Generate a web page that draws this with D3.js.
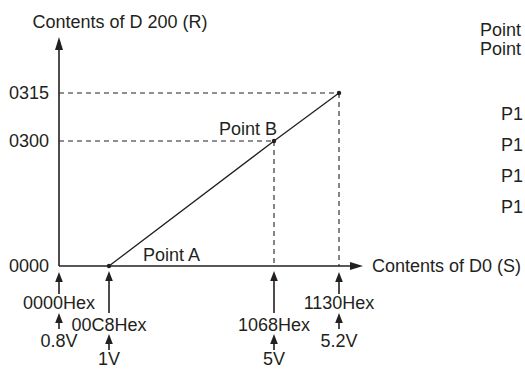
<!DOCTYPE html>
<html>
<head>
<meta charset="utf-8">
<script src="https://cdn.jsdelivr.net/npm/d3@7"></script>
<style>
  html, body { margin: 0; padding: 0; background: #fff; overflow: hidden; }
  svg { display: block; }
  text { font-family: "Liberation Sans", Arial, Helvetica, sans-serif; font-size: 18px; fill: #231f20; }
</style>
</head>
<body>
<svg id="chart" width="525" height="369"></svg>
<script>
// Input side: contents of D0 (S), hex words and the matching input voltages
const sTicks = ["0000", "00C8", "1068", "1130"];
const voltages = ["0.8V", "1V", "5V", "5.2V"];

// Output side: contents of D 200 (R)
const rTicks = ["0000", "0300", "0315"];

// Scaling line: S → R
const lineS = ["00C8", "1068", "1130"];
const lineR = ["0000", "0300", "0315"];
const pointNames = ["Point A", "Point B"];

// Side notes
const notesTop = ["Point", "Point"];
const notesList = ["P1", "P1", "P1", "P1"];

const yTitle = "Contents of D 200 (R)";
const xTitle = "Contents of D0 (S)";

const hex = h => parseInt(h, 16);
const ink = "#231f20";

const svg = d3.select("#chart");

// Schematic (not to scale) axes: piecewise-linear scales through the marked values
const x = d3.scaleLinear()
  .domain(sTicks.map(hex))
  .range([59, 109, 274, 339]);
const y = d3.scaleLinear()
  .domain(rTicks.map(hex))
  .range([266, 141, 93]);

const x0 = x(0), y0 = y(0);

function arrowHead(g, tipX, tipY, dir, len, half) {
  // dir: "up" or "right"
  let pts;
  if (dir === "up") pts = [[tipX, tipY], [tipX - half, tipY + len], [tipX + half, tipY + len]];
  else pts = [[tipX, tipY], [tipX - len, tipY - half], [tipX - len, tipY + half]];
  g.append("path").attr("d", d3.line()(pts) + "Z").attr("fill", ink).attr("stroke", "none");
}

const g = svg.append("g");

// Dashed guides from each marked point to both axes
const pts = lineS.map((s, i) => ({ s: hex(s), r: hex(lineR[i]) }));
pts.filter(p => p.r > 0).forEach(p => {
  g.append("line")
    .attr("x1", x0).attr("x2", x(p.s))
    .attr("y1", y(p.r)).attr("y2", y(p.r))
    .attr("stroke", ink).attr("stroke-width", 1.1).attr("stroke-dasharray", "5,4");
  g.append("line")
    .attr("x1", x(p.s)).attr("x2", x(p.s))
    .attr("y1", y(p.r)).attr("y2", y0)
    .attr("stroke", ink).attr("stroke-width", 1.1).attr("stroke-dasharray", "5,4");
});

// Axes with arrowheads
g.append("line").attr("x1", x0).attr("x2", x0).attr("y1", y0).attr("y2", 48)
  .attr("stroke", ink).attr("stroke-width", 1.6);
arrowHead(g, x0, 37, "up", 13, 4);
g.append("line").attr("x1", x0).attr("x2", 352).attr("y1", y0).attr("y2", y0)
  .attr("stroke", ink).attr("stroke-width", 1.6);
arrowHead(g, 363, y0, "right", 13, 4);

// Conversion line
g.append("path")
  .attr("d", d3.line().x(p => x(p.s)).y(p => y(p.r))(pts))
  .attr("fill", "none").attr("stroke", ink).attr("stroke-width", 1.3);
g.selectAll("circle.pt").data(pts).join("circle")
  .attr("class", "pt")
  .attr("cx", p => x(p.s)).attr("cy", p => y(p.r)).attr("r", 2.2).attr("fill", ink);

// Y tick labels
g.selectAll("text.rt").data(rTicks).join("text")
  .attr("class", "rt")
  .attr("x", 49).attr("y", d => y(hex(d)))
  .attr("dy", "0.36em").attr("text-anchor", "end")
  .text(d => d);

// Axis titles
g.append("text").attr("x", 120).attr("y", 28).attr("text-anchor", "middle").text(yTitle);
g.append("text").attr("x", 372).attr("y", y0).attr("dy", "0.36em").text(xTitle);

// Point labels
g.append("text").attr("x", x(pts[0].s) + 34).attr("y", y(pts[0].r) - 5).text(pointNames[0]);
g.append("text").attr("x", x(pts[1].s) + 3).attr("y", y(pts[1].r) - 6)
  .attr("text-anchor", "end").text(pointNames[1]);

// Input markers below the S axis, staggered in two rows
const rows = [
  { tail: 294, tip: 272, hexBase: 309, vTail: 329, vTip: 313, vBase: 347 },
  { tail: 313, tip: 271, hexBase: 331, vTail: 350, vTip: 334, vBase: 365 }
];
sTicks.forEach((s, i) => {
  const cx = x(hex(s));
  const r = rows[(i === 0 || i === sTicks.length - 1) ? 0 : 1];
  g.append("line").attr("x1", cx).attr("x2", cx).attr("y1", r.tail).attr("y2", r.tip + 8)
    .attr("stroke", ink).attr("stroke-width", 1.6);
  arrowHead(g, cx, r.tip, "up", 10, 3.8);
  g.append("text").attr("x", cx).attr("y", r.hexBase).attr("text-anchor", "middle").text(s + "Hex");
  g.append("line").attr("x1", cx).attr("x2", cx).attr("y1", r.vTail).attr("y2", r.vTip + 8)
    .attr("stroke", ink).attr("stroke-width", 1.6);
  arrowHead(g, cx, r.vTip, "up", 10, 3.8);
  g.append("text").attr("x", cx).attr("y", r.vBase).attr("text-anchor", "middle").text(voltages[i]);
});

// Side notes on the right
g.selectAll("text.nt").data(notesTop).join("text")
  .attr("class", "nt").attr("x", 480).attr("y", (d, i) => 36 + i * 19).text(d => d);
g.selectAll("text.nl").data(notesList).join("text")
  .attr("class", "nl").attr("x", 501).attr("y", (d, i) => 120 + i * 31).text(d => d);
</script>
</body>
</html>
